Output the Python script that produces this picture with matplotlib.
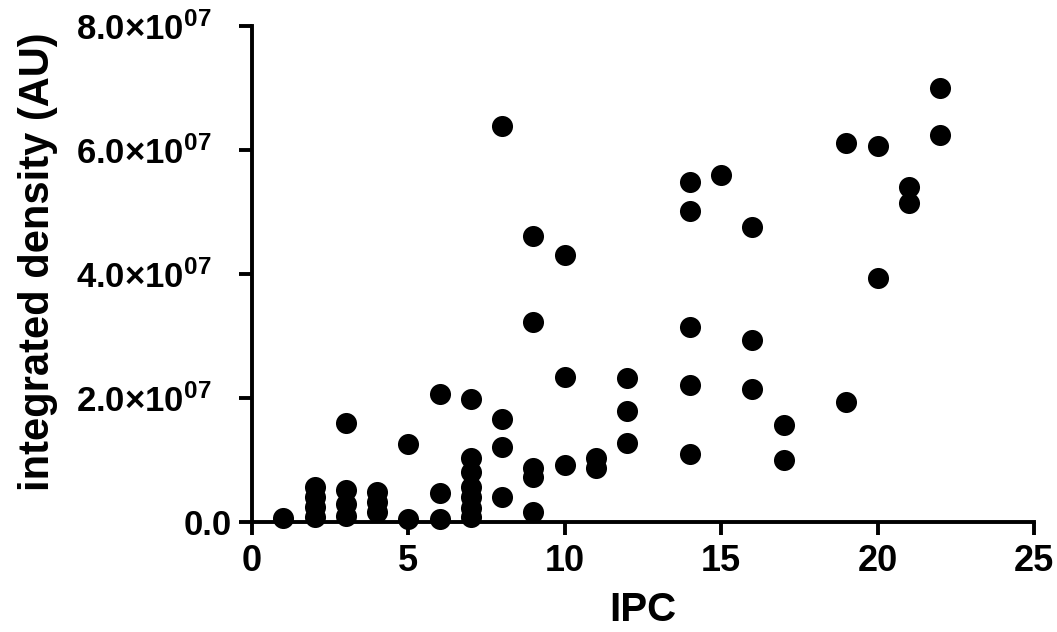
import matplotlib
matplotlib.use("Agg")
import matplotlib.pyplot as plt
import matplotlib.transforms as mtransforms
import numpy as np

# IPC count per cell and integrated density (in units of 1e7 AU)
ipc = [
    1,
    2, 2, 2, 2,
    3, 3, 3, 3,
    4, 4, 4,
    5, 5,
    6, 6, 6,
    7, 7, 7, 7, 7, 7, 7,
    8, 8, 8, 8,
    9, 9, 9, 9, 9,
    10, 10, 10,
    11, 11,
    12, 12, 12,
    14, 14, 14, 14, 14,
    15,
    16, 16, 16,
    17, 17,
    19, 19,
    20, 20,
    21, 21,
    22, 22,
]
density_e7 = [
    0.07,
    0.56, 0.40, 0.24, 0.08,
    1.60, 0.52, 0.29, 0.10,
    0.48, 0.32, 0.16,
    1.26, 0.05,
    2.06, 0.47, 0.05,
    1.98, 1.03, 0.81, 0.56, 0.40, 0.22, 0.08,
    6.38, 1.66, 1.21, 0.40,
    4.62, 3.23, 0.87, 0.73, 0.16,
    4.30, 2.34, 0.92,
    1.03, 0.87,
    2.32, 1.79, 1.27,
    5.49, 5.01, 3.15, 2.21, 1.10,
    5.60,
    4.75, 2.94, 2.15,
    1.57, 1.00,
    6.12, 1.94,
    6.06, 3.93,
    5.40, 5.15,
    7.00, 6.24,
]

x_ticks = [0, 5, 10, 15, 20, 25]
y_ticks = [0, 2e7, 4e7, 6e7, 8e7]
y_tick_labels = ["0.0", "2.0×10$^{07}$", "4.0×10$^{07}$", "6.0×10$^{07}$", "8.0×10$^{07}$"]

plt.rcParams.update({
    "font.family": ["Liberation Sans", "DejaVu Sans"],
    "font.weight": "bold",
    "mathtext.fontset": "custom",
    "mathtext.rm": "Liberation Sans:bold",
    "mathtext.bf": "Liberation Sans:bold",
    "mathtext.default": "bf",
})

fig = plt.figure(figsize=(10.57, 6.32), dpi=100)
ax = fig.add_axes([0.2384, 0.174, 0.7398, 0.785])

ax.scatter(ipc, np.array(density_e7) * 1e7, s=230, color="black",
           linewidths=0, zorder=3, clip_on=False)

ax.set_xlim(0, 25)
ax.set_ylim(0, 8e7)
ax.set_xticks(x_ticks)
ax.set_yticks(y_ticks)
ax.set_yticklabels(y_tick_labels)

for side in ("top", "right"):
    ax.spines[side].set_visible(False)
for side in ("left", "bottom"):
    ax.spines[side].set_linewidth(2.8)
    ax.spines[side].set_capstyle("projecting")

ax.tick_params(axis="both", length=9.5, width=2.8, direction="out")
ax.tick_params(axis="x", pad=6, labelsize=26)
ax.tick_params(axis="y", pad=5, labelsize=25)
for lab in ax.get_xticklabels() + ax.get_yticklabels():
    lab.set_fontweight("bold")

# exponent labels sit a bit further left than "0.0" in the original
shift = mtransforms.ScaledTranslation(-0.2, 0, fig.dpi_scale_trans)
for lab in ax.get_yticklabels()[1:]:
    lab.set_transform(lab.get_transform() + shift)

ax.set_xlabel("IPC", fontsize=29, fontweight="bold", labelpad=9)
ax.set_ylabel("integrated density (AU)", fontsize=30, fontweight="bold")
ax.yaxis.set_label_coords(-0.248, 0.524)

fig.savefig("out.png", dpi=100)
